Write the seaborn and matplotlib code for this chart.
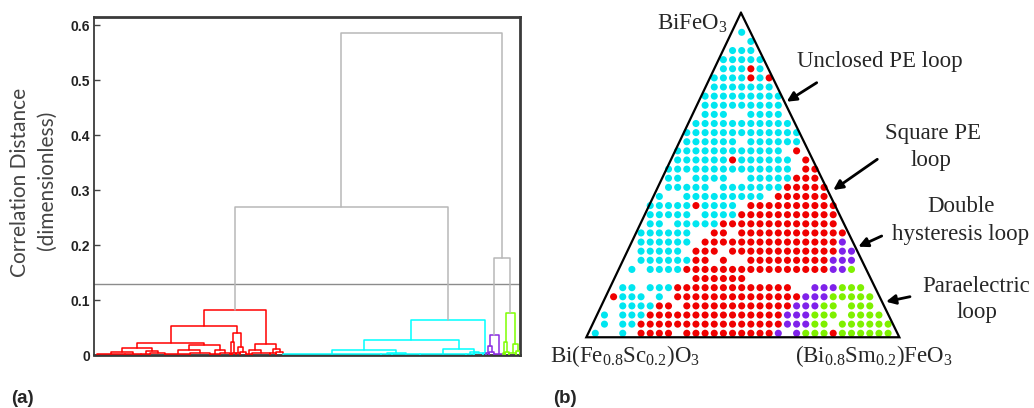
import numpy as np
import pandas as pd
import matplotlib
matplotlib.use("Agg")
import matplotlib.pyplot as plt
import seaborn as sns

# ---------------- panel (a): dendrogram data ----------------
Y_TICKS = [0.0, 0.1, 0.2, 0.3, 0.4, 0.5, 0.6]
Y_TICK_LABELS = ["0", "0.1", "0.2", "0.3", "0.4", "0.5", "0.6"]
Y_LABEL_LINES = ["Correlation Distance", "(dimensionless)"]
CUT_HEIGHT = 0.13
ROOT_HEIGHT = 0.585
LEFT_BRANCH_HEIGHT = 0.270
RIGHT_BRANCH_HEIGHT = 0.177

# nodes: (merge height, left, right); leaf groups: [number of leaves, merge height]
RED_TREE = (0.082,
            (0.053,
             (0.023,
              (0.013, (0.006, [28, 0.002], [16, 0.003]), (0.008, [9, 0.002], [15, 0.004])),
              (0.018, (0.009, [25, 0.003], [20, 0.004]), (0.010, [10, 0.003], [10, 0.005]))),
             (0.041, (0.024, [2, 0.003], [4, 0.005]), (0.015, [4, 0.004], [6, 0.006]))),
            (0.020, (0.010, [6, 0.003], [18, 0.005]), (0.012, [6, 0.004], [7, 0.006])))
CYAN_TREE = (0.065,
             (0.028,
              (0.0097, [98, 0.002], (0.005, [11, 0.002], [28, 0.003])),
              (0.011, [46, 0.003], (0.006, [8, 0.003], [9, 0.004]))),
             [3, 0.005])
PURPLE_TREE = (0.036, (0.016, [3, 0.004], [5, 0.006]), [9, 0.003])
GREEN_TREE = (0.077, (0.025, [2, 0.004], [4, 0.006]), (0.020, [7, 0.005], [4, 0.008]))

CLUSTER_TREES = [("red", RED_TREE), ("cyan", CYAN_TREE), ("purple", PURPLE_TREE), ("green", GREEN_TREE)]
LINK_COLORS = {"red": "#ff0000", "cyan": "#00ffff", "purple": "#8a2be2",
               "green": "#7fff00", "gray": "#b8b8b8"}

# ---------------- panel (b): ternary map data ----------------
CORNER_LABELS = [r"BiFeO$_3$", r"Bi(Fe$_{0.8}$Sc$_{0.2}$)O$_3$", r"(Bi$_{0.8}$Sm$_{0.2}$)FeO$_3$"]
# corners of the composition triangle in grid units (column, row)
TRIANGLE_CORNERS = [(-0.08, -2.15), (-16.98, 33.44), (17.23, 33.44)]
PHASE_NAMES = {"c": "Unclosed PE loop", "r": "Square PE loop",
               "p": "Double hysteresis loop", "g": "Paraelectric loop"}
PHASE_COLORS = {"Unclosed PE loop": "#00e6f0", "Square PE loop": "#f00000",
                "Double hysteresis loop": "#7f22ea", "Paraelectric loop": "#7ff000"}
# each row: (first column, phase codes left->right; '.' = no point)
GRID_ROWS = [
    (0, "c"),
    (1, "c"),
    (-1, "ccc"),
    (-2, "ccccc"),
    (-2, "cccrc"),
    (-3, "ccccrcr"),
    (-3, "ccccccc"),
    (-4, "ccccccccc"),
    (-4, "ccccccccc"),
    (-5, ".ccc..cccc."),
    (-5, "ccccccccccc"),
    (-6, "ccccccccccccc"),
    (-6, "cccccc.cccccc"),
    (-7, "cccccccccccc.r."),
    (-7, "ccccccrcccccc.r"),
    (-8, "cccccccccccccc.rr"),
    (-8, "cc.cccc..cccccrrr"),
    (-9, ".ccccc.cccccccrrrrr"),
    (-9, "c..ccccccccc.rrrrrr"),
    (-10, "cccccrcccc.rrrrrrrrrr"),
    (-10, "ccccc.ccccrrrrrrrrrrr"),
    (-11, ".cc.cccccrrrrrrrrrrrrr."),
    (-11, "cccccc..rr.rrrrrrrrrrrr"),
    (-12, ".cccccc.rrrrrrrrrrrrrrrp."),
    (-12, ".ccccc.rrr.rrrrrrrrrrrrpp"),
    (-13, "..ccccccrr.r..rrrrrrrrrppp."),
    (-13, ".c.ccccrrrrrrrrrrrrrrrrppg."),
    (-5, "rrrrrr"),
    (-14, ".cc.cccrrrrrrrrrrrrr..pppggg."),
    (-14, "rccc.c.rrrrrrrrrrrrrrpppggggg."),
    (-15, "..ccccrr.rrrrrrrrrrrrpppgg.ggg."),
    (-15, "c.cccrrrrrrrrrrrrrrrpppggg.gggg"),
    (-16, ".c.ccrrrrrrrrrrrrrrrrpppgg.gggggg"),
    (-16, "c..c.rrrr.rrrrrrrrrrp.pgggrgggggg"),
]

# annotation texts: (text, centre x px, baseline y px)
ANNOT_TEXT = [("Unclosed PE loop", 880, 67), ("Square PE", 933, 139), ("loop", 931, 166),
              ("Double", 961, 212), ("hysteresis loop", 961, 240),
              ("Paraelectric", 976, 292), ("loop", 977, 318)]
# arrows: (tail x, tail y, head x, head y) in px
ANNOT_ARROWS = [(816.7, 82.7, 786.7, 101.7), (877.3, 159.3, 833.3, 190.0),
                (881.7, 236.0, 858.3, 246.7), (910.0, 296.7, 886.0, 301.7)]

# ---------------- figure ----------------
W, H, DPI = 1034, 408, 100
sns.set_theme(style="white")
plt.rcParams["font.family"] = ["Liberation Sans", "DejaVu Sans"]
plt.rcParams["mathtext.fontset"] = "custom"
plt.rcParams["mathtext.rm"] = "Liberation Serif"
plt.rcParams["mathtext.it"] = "Liberation Serif:italic"
plt.rcParams["mathtext.bf"] = "Liberation Serif:bold"

fig = plt.figure(figsize=(W / DPI, H / DPI), dpi=DPI)
fig.patch.set_facecolor("white")


def fx(px):
    return px / W


def fy(py):
    return 1 - py / H


# ---- panel (a) ----
axa = fig.add_axes([fx(94), fy(355.3), 426 / W, (355.3 - 17.3) / H])


def layout(node, start, color, segs):
    if isinstance(node, list):
        n, h = node
        x0, x1 = start, start + n
        segs.append(([x0, x0, x1, x1], [0, h, h, 0], color))
        return (x0 + x1) / 2, h, start + n
    h, left, right = node
    xl, hl, nxt = layout(left, start, color, segs)
    xr, hr, nxt = layout(right, nxt, color, segs)
    segs.append(([xl, xl, xr, xr], [hl, h, h, hr], color))
    return (xl + xr) / 2, h, nxt


segs = []
tops = []
pos = 0
for name, tree in CLUSTER_TREES:
    x, h, pos = layout(tree, pos, name, segs)
    tops.append((x, h))
(xr_, hr_), (xc_, hc_), (xp_, hp_), (xg_, hg_) = tops
xl1 = (xr_ + xc_) / 2
xr1 = (xp_ + xg_) / 2
segs.append(([xr_, xr_, xc_, xc_], [hr_, LEFT_BRANCH_HEIGHT, LEFT_BRANCH_HEIGHT, hc_], "gray"))
segs.append(([xp_, xp_, xg_, xg_], [hp_, RIGHT_BRANCH_HEIGHT, RIGHT_BRANCH_HEIGHT, hg_], "gray"))
segs.append(([xl1, xl1, xr1, xr1], [LEFT_BRANCH_HEIGHT, ROOT_HEIGHT, ROOT_HEIGHT, RIGHT_BRANCH_HEIGHT], "gray"))

rows = []
for i, (xs, ys, col) in enumerate(segs):
    for k, (xv, yv) in enumerate(zip(xs, ys)):
        rows.append({"x": xv, "y": yv, "seg": i, "order": k, "grp": col})
links = pd.DataFrame(rows)

sns.lineplot(data=links, x="x", y="y", units="seg", hue="grp", palette=LINK_COLORS,
             estimator=None, sort=False, legend=False, linewidth=1.1, ax=axa, zorder=3)
axa.axhline(CUT_HEIGHT, color="#8c8c8c", lw=1.0, zorder=2)
axa.set_xlim(-3, pos)
axa.set_ylim(0, 0.614)
axa.set_xticks([])
axa.set_yticks(Y_TICKS)
axa.set_yticklabels(Y_TICK_LABELS, fontweight="bold", fontsize=10, color="#222222")
axa.tick_params(axis="y", direction="in", length=4, width=1, pad=3, color="#444444", left=True)
axa.set_xlabel("")
axa.set_ylabel("")
for side, lw in [("left", 1.3), ("bottom", 2.0), ("top", 2.0), ("right", 2.0)]:
    axa.spines[side].set_visible(True)
    axa.spines[side].set_color("#3a3a3a")
    axa.spines[side].set_linewidth(lw)

fig.text(fx(20), fy(182), Y_LABEL_LINES[0], rotation=90, ha="center", va="center",
         fontsize=15, color="#444444", family=["Lato", "DejaVu Sans"])
fig.text(fx(47), fy(180), Y_LABEL_LINES[1], rotation=90, ha="center", va="center",
         fontsize=15, color="#444444", family=["Lato", "DejaVu Sans"])
fig.text(fx(11), fy(403), "(a)", fontweight="bold", fontsize=13.5, ha="left", va="baseline")
fig.text(fx(553), fy(403), "(b)", fontweight="bold", fontsize=13.5, ha="left", va="baseline")

# ---- panel (b) ----
axb = fig.add_axes([fx(560), 0, (W - 560) / W, 1])
pts = []
for r, (c0, codes) in enumerate(GRID_ROWS):
    for k, ch in enumerate(codes):
        if ch != ".":
            pts.append({"col": c0 + k, "row": r, "phase": PHASE_NAMES[ch]})
dots = pd.DataFrame(pts)
sns.scatterplot(data=dots, x="col", y="row", hue="phase", palette=PHASE_COLORS,
                s=26, linewidth=0, legend=False, ax=axb, zorder=3)
tri = np.array(TRIANGLE_CORNERS + [TRIANGLE_CORNERS[0]])
axb.plot(tri[:, 0], tri[:, 1], color="black", lw=1.6, zorder=4, solid_joinstyle="miter")
axb.set_xlim((560 - 741.7) / 9.15, (W - 741.7) / 9.15)
axb.set_ylim((H - 32.3) / 9.12, (0 - 32.3) / 9.12)
axb.axis("off")

serif = ["Liberation Serif", "DejaVu Serif"]
fig.text(fx(692.5), fy(29.5), CORNER_LABELS[0], ha="center", va="baseline", fontsize=16.5, family=serif)
fig.text(fx(625.5), fy(361.7), CORNER_LABELS[1], ha="center", va="baseline", fontsize=16.5, family=serif)
fig.text(fx(874), fy(361.7), CORNER_LABELS[2], ha="center", va="baseline", fontsize=16.5, family=serif)
for txt, cx, by in ANNOT_TEXT:
    fig.text(fx(cx), fy(by), txt, ha="center", va="baseline", fontsize=16.5, family=serif)
for tx, ty, hx, hy in ANNOT_ARROWS:
    axb.annotate("", xy=(fx(hx), fy(hy)), xycoords="figure fraction",
                 xytext=(fx(tx), fy(ty)), textcoords="figure fraction",
                 arrowprops=dict(arrowstyle="-|>", color="black", lw=2.0,
                                 mutation_scale=14, shrinkA=0, shrinkB=0))

fig.savefig("out.png", dpi=DPI, facecolor="white")
